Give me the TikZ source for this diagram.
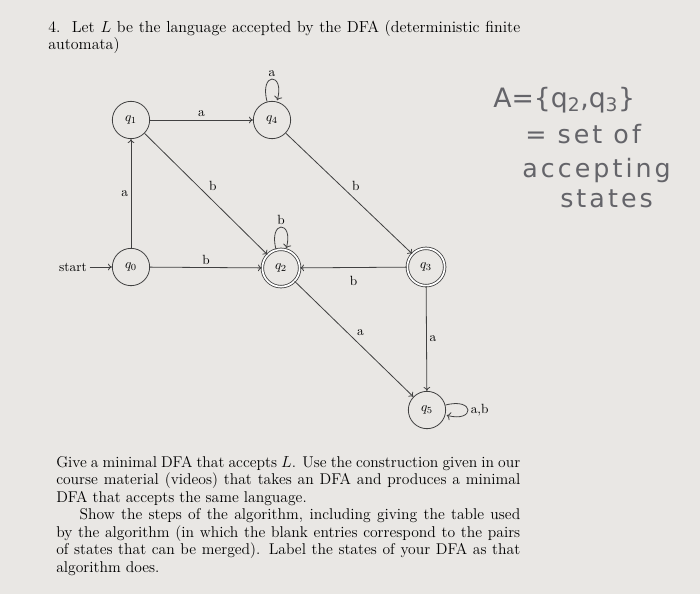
\documentclass[tikz,border=0pt]{standalone}
\usepackage{fontspec}
\usetikzlibrary{arrows.meta}
\newfontfamily\handfont{DejaVu Sans}[LetterSpace=12]
\newfontfamily\handfontA{DejaVu Sans}
\definecolor{PaperGray}{RGB}{233,231,228}
\definecolor{InkGray}{RGB}{65,65,65}
\definecolor{PenGray}{RGB}{100,100,105}
\tikzset{
  dfastate/.style={circle,draw=InkGray,semithick,minimum size=28pt,inner sep=0pt},
  accstate/.style={dfastate,double,double distance=1.3pt},
  trans/.style={-{To[length=3pt,width=5pt]},InkGray,semithick},
  lbl/.style={text=black,inner sep=2pt},
  handnote/.style={PenGray,font=\handfont\fontsize{19}{22}\selectfont,anchor=west,inner sep=0pt},
  question/.style={anchor=north west,inner sep=0pt,align=justify,
    font=\fontsize{11.7}{13.1}\selectfont}
}

\begin{document}
\begin{tikzpicture}[x=7.5pt,y=-7.5pt]
  \fill[PaperGray] (0,0) rectangle (70,59.4);
  \useasboundingbox (0,0) rectangle (70,59.4);
  % question text
  \node[question,text width=354pt,font=\fontsize{12}{13.1}\selectfont] (title) at (4.8,2.0)
    {4.\ \ Let $L$ be the language accepted by the DFA (deterministic finite\linebreak
     automata)};
  % states
  \node[dfastate] (q1) at (13.1,12.0) {$q_1$};
  \node[dfastate] (q4) at (27.2,12.0) {$q_4$};
  \node[dfastate] (q0) at (13.1,26.7) {$q_0$};
  \node[accstate] (q2) at (28.1,26.8) {$q_2$};
  \node[accstate] (q3) at (42.6,26.7) {$q_3$};
  \node[dfastate] (q5) at (42.7,41.0) {$q_5$};
  \node[lbl] (start) at (7.3,26.7) {start};
  % transitions
  \draw[trans] (start) -- (q0);
  \draw[trans] (q0) -- node[lbl,left] {a} (q1);
  \draw[trans] (q1) -- node[lbl,above] {a} (q4);
  \draw[trans] (q1) -- node[lbl,above right] {b} (q2);
  \draw[trans] (q0) -- node[lbl,above] {b} (q2);
  \draw[trans] (q4) -- node[lbl,above right] {b} (q3);
  \draw[trans] (q3) -- node[lbl,below=4pt] {b} (q2);
  \draw[trans] (q2) -- node[lbl,above right] {a} (q5);
  \draw[trans] (q3) -- node[lbl,right] {a} (q5);
  \draw[trans] (q4) edge[loop above] node[lbl,above] {a} (q4);
  \draw[trans] (q2) edge[loop above] node[lbl,above] {b} (q2);
  \draw[trans] (q5) edge[loop right] node[lbl,right] {a,b} (q5);
  % handwritten note
  \node[handnote,font=\handfontA\fontsize{20}{22}\selectfont] (set) at (49.3,10.0)
    {A=\{q\textsubscript{2},q\textsubscript{3}\}};
  \node[handnote] (set2) at (52.5,13.4) {= set of};
  \node[handnote] (set3) at (52.2,17.1) {accepting};
  \node[handnote] (set4) at (56.0,19.9) {states};
  % task
  \node[question,text width=348pt] (task) at (5.6,45.6)
    {Give a minimal DFA that accepts $L$. Use the construction given in our\linebreak
     course material (videos) that takes an DFA and produces a minimal\linebreak
     DFA that accepts the same language.\par
     \hspace*{1.5em}Show the steps of the algorithm, including giving the table used\linebreak
     by the algorithm (in which the blank entries correspond to the pairs\linebreak
     of states that can be merged). Label the states of your DFA as that\linebreak
     algorithm does.};
\end{tikzpicture}
\end{document}
